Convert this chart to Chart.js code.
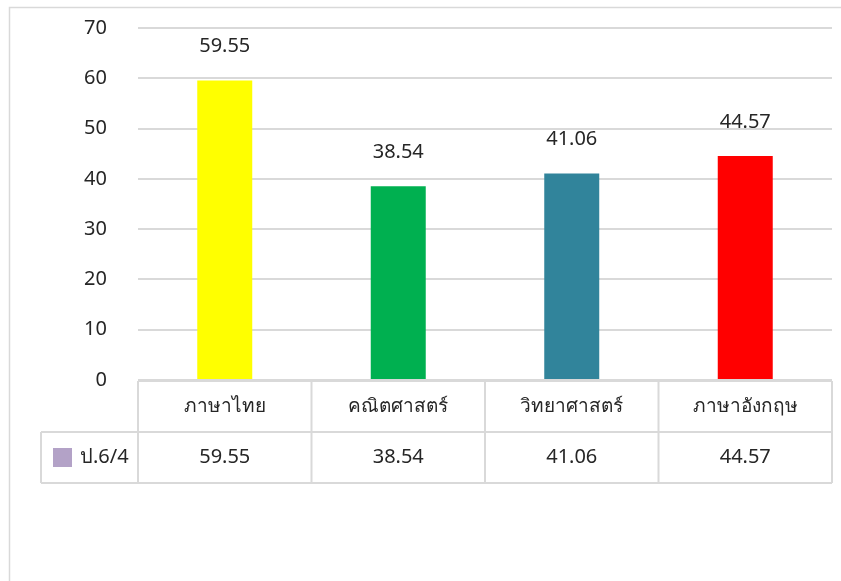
<!DOCTYPE html>
<html lang="th">
<head>
    <meta charset="UTF-8">
    <title>ป.6/4</title>
    <script src="https://cdn.jsdelivr.net/npm/chart.js@4.4.1/dist/chart.umd.min.js"></script>
    <style>
        html, body {
            margin: 0;
            padding: 0;
            background: #ffffff;
        }
        #wrap {
            width: 841px;
            height: 581px;
            position: relative;
        }
    </style>
</head>
<body>
    <div id="wrap"><canvas id="chart"></canvas></div>

    <script>
        // Data
        const subjects = ['ภาษาไทย', 'คณิตศาสตร์', 'วิทยาศาสตร์', 'ภาษาอังกฤษ'];
        const scores = [59.55, 38.54, 41.06, 44.57];
        const seriesName = 'ป.6/4';
        const barColors = ['#ffff00', '#00b050', '#31849b', '#ff0000'];
        const legendColor = '#b3a2c7';

        const fontFamily = '"Noto Sans", "Open Sans", sans-serif';
        const textColor = '#262626';
        const lineColor = '#d9d9d9';

        // light border around the chart
        const frame = {
            id: 'frame',
            beforeDraw(chart) {
                const ctx = chart.ctx;
                ctx.save();
                ctx.strokeStyle = lineColor;
                ctx.lineWidth = 1.5;
                ctx.beginPath();
                ctx.moveTo(9.5, 581);
                ctx.lineTo(9.5, 7.5);
                ctx.lineTo(841, 7.5);
                ctx.stroke();
                ctx.restore();
            }
        };

        // value labels above bars
        const barLabels = {
            id: 'barLabels',
            afterDatasetsDraw(chart) {
                const ctx = chart.ctx;
                const meta = chart.getDatasetMeta(0);
                ctx.save();
                ctx.font = '20px ' + fontFamily;
                ctx.fillStyle = textColor;
                ctx.textAlign = 'center';
                ctx.textBaseline = 'middle';
                meta.data.forEach((bar, i) => {
                    ctx.fillText(scores[i].toFixed(2), bar.x, bar.y - 34);
                });
                ctx.restore();
            }
        };

        // data table under the plot
        const dataTable = {
            id: 'dataTable',
            afterDraw(chart) {
                const ctx = chart.ctx;
                const x = chart.scales.x;
                const area = chart.chartArea;
                const top = area.bottom + 1;
                const rowH = 51;
                const mid = top + rowH;
                const bottom = mid + rowH;
                const left = area.left;
                const right = area.right;
                const legendLeft = 41;
                const step = (right - left) / subjects.length;

                ctx.save();
                ctx.strokeStyle = lineColor;
                ctx.lineWidth = 2;
                ctx.beginPath();
                // horizontals
                ctx.moveTo(left, top); ctx.lineTo(right, top);
                ctx.moveTo(legendLeft, mid); ctx.lineTo(right, mid);
                ctx.moveTo(legendLeft, bottom); ctx.lineTo(right, bottom);
                // verticals
                ctx.moveTo(legendLeft, mid); ctx.lineTo(legendLeft, bottom);
                for (let i = 0; i <= subjects.length; i++) {
                    const cx = left + step * i;
                    ctx.moveTo(cx, top); ctx.lineTo(cx, bottom);
                }
                ctx.stroke();

                ctx.fillStyle = textColor;
                ctx.textAlign = 'center';
                ctx.textBaseline = 'middle';
                subjects.forEach((s, i) => {
                    const cx = x.getPixelForValue(i);
                    ctx.font = '19px ' + fontFamily;
                    ctx.fillText(s, cx, top + rowH / 2);
                    ctx.font = '20px ' + fontFamily;
                    ctx.fillText(scores[i].toFixed(2), cx, mid + rowH / 2);
                });

                // legend key
                ctx.fillStyle = legendColor;
                ctx.fillRect(53, mid + 16, 19, 19);
                ctx.fillStyle = textColor;
                ctx.textAlign = 'left';
                ctx.font = '20px ' + fontFamily;
                ctx.fillText(seriesName, 80, mid + rowH / 2);
                ctx.restore();
            }
        };

        new Chart(document.getElementById('chart'), {
            type: 'bar',
            data: {
                labels: subjects,
                datasets: [{
                    label: seriesName,
                    data: scores,
                    backgroundColor: barColors,
                    borderWidth: 0,
                    barPercentage: 0.317,
                    categoryPercentage: 1
                }]
            },
            options: {
                responsive: true,
                maintainAspectRatio: false,
                animation: false,
                layout: {
                    padding: { top: 28, right: 9, bottom: 98, left: 0 }
                },
                plugins: {
                    legend: { display: false },
                    tooltip: { enabled: false }
                },
                scales: {
                    x: {
                        grid: { display: false },
                        border: { display: false },
                        ticks: { display: false },
                        afterFit(scale) { scale.height = 103; }
                    },
                    y: {
                        min: 0,
                        max: 70,
                        border: { display: false },
                        grid: {
                            color: lineColor,
                            lineWidth: 2,
                            drawTicks: false
                        },
                        ticks: {
                            stepSize: 10,
                            padding: 31,
                            color: textColor,
                            font: { family: fontFamily, size: 20 }
                        },
                        afterFit(scale) {
                            scale.width = 138;
                            scale.paddingTop = 0;
                        }
                    }
                }
            },
            plugins: [frame, barLabels, dataTable]
        });
    </script>
</body>
</html>
